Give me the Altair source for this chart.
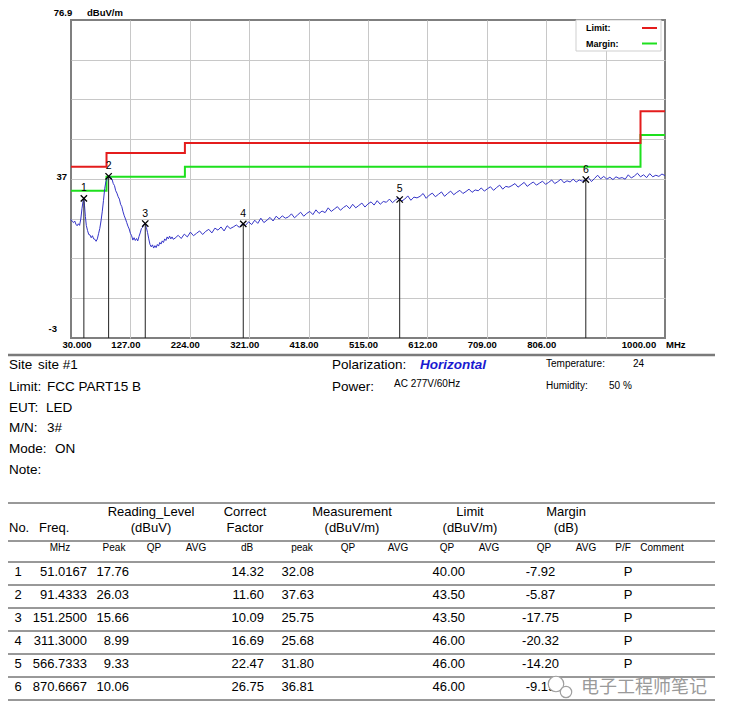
import altair as alt
import pandas as pd

# ---------------- spectrum data ----------------
low_freq = [30, 32, 34, 36, 38, 40, 42, 44, 46, 48, 50, 51, 52, 53.5, 55, 57, 59, 61, 63, 65,
            67, 69, 71, 73, 75, 77, 79, 81, 83, 85, 87, 89, 91.4, 93, 95, 97, 99, 101, 103, 105,
            107, 109, 111, 113, 115, 117, 119, 121, 123, 125, 127, 129, 131, 133, 135, 137, 139, 141, 143, 145,
            147, 149, 151.25, 153, 155, 157, 159, 161, 163, 165, 167, 169, 171, 173, 175, 177, 179, 181, 183, 185,
            187, 189, 191, 193, 195, 197]
low_level = [26.8, 26.3, 26.0, 26.4, 25.6, 25.2, 25.7, 25.3, 26.9, 29.6, 31.7, 32.1, 30.4, 27.5, 25.3, 24.0, 23.0, 22.9, 22.2, 22.7,
             21.9, 21.8, 21.3, 21.9, 23.2, 24.5, 26.4, 28.7, 31.5, 34.5, 36.3, 37.1, 37.6, 37.7, 37.3, 36.9, 35.8, 35.3, 34.0, 33.4,
             32.5, 31.9, 30.6, 30.0, 28.7, 27.7, 26.9, 26.0, 25.1, 24.4, 23.3, 22.7, 21.6, 22.2, 21.5, 22.0, 21.4, 22.5, 23.4, 24.5,
             24.8, 25.6, 25.75, 24.8, 23.5, 21.9, 20.5, 19.9, 20.4, 19.6, 20.2, 19.7, 20.5, 20.1, 21.0, 20.6, 21.4, 21.0, 21.9, 21.5,
             22.4, 21.9, 22.6, 21.9, 22.4, 21.8]

high_freq = [200, 205, 210, 215, 220, 225, 230, 235, 240, 245,
             250, 255, 260, 265, 270, 275, 280, 285, 290, 295,
             300, 305, 310, 315, 320, 325, 330, 335, 340, 345,
             350, 355, 360, 365, 370, 375, 380, 385, 390, 395,
             400, 405, 410, 415, 420, 425, 430, 435, 440, 445,
             450, 455, 460, 465, 470, 475, 480, 485, 490, 495,
             500, 505, 510, 515, 520, 525, 530, 535, 540, 545,
             550, 555, 560, 565, 570, 575, 580, 585, 590, 595,
             600, 605, 610, 615, 620, 625, 630, 635, 640, 645,
             650, 655, 660, 665, 670, 675, 680, 685, 690, 695,
             700, 705, 710, 715, 720, 725, 730, 735, 740, 745,
             750, 755, 760, 765, 770, 775, 780, 785, 790, 795,
             800, 805, 810, 815, 820, 825, 830, 835, 840, 845,
             850, 855, 860, 865, 870, 875, 880, 885, 890, 895,
             900, 905, 910, 915, 920, 925, 930, 935, 940, 945,
             950, 955, 960, 965, 970, 975, 980, 985, 990, 995, 1000]
high_level = [22.1, 22.8, 22.0, 23.1, 22.4, 23.6, 22.7, 23.3, 23.9, 23.0,
              23.8, 24.3, 23.4, 24.6, 24.1, 24.9, 23.9, 25.2, 24.5, 24.9,
              25.4, 24.8, 25.7, 25.3, 26.2, 25.5, 26.6, 25.8, 27.1, 26.0,
              26.6, 27.3, 26.4, 27.6, 26.9, 27.7, 27.1, 27.4, 28.2, 27.2,
              27.9, 28.6, 27.6, 28.3, 28.8, 28.0, 29.2, 28.3, 28.9, 28.5,
              29.7, 28.8, 29.4, 30.0, 29.1, 29.8, 30.3, 29.5, 30.6, 29.7,
              30.3, 30.9, 29.9, 30.7, 31.2, 30.4, 31.5, 30.6, 31.3, 31.1,
              31.9, 31.0, 31.7, 32.2, 31.4, 31.9, 32.7, 31.6, 32.4, 32.2,
              32.6, 33.3, 32.1, 32.9, 33.4, 32.5, 33.1, 33.7, 32.6, 33.3,
              33.9, 33.0, 33.6, 34.1, 33.3, 33.8, 34.4, 33.6, 34.2, 34.0,
              34.7, 33.9, 34.5, 35.0, 34.1, 34.8, 35.4, 34.4, 35.1, 34.9,
              35.3, 35.8, 34.9, 35.5, 36.1, 35.1, 35.7, 36.2, 35.4, 35.9,
              36.4, 35.6, 36.1, 36.7, 35.8, 36.3, 36.9, 36.0, 36.5, 36.2,
              36.9, 36.2, 36.7, 36.4, 36.8, 37.3, 36.3, 37.1, 37.9, 37.0,
              37.6, 36.9, 37.4, 36.8, 37.5, 37.1, 37.3, 36.9, 38.0, 37.2,
              37.7, 38.4, 37.5, 38.0, 37.3, 38.3, 37.5, 37.9, 37.6, 38.2, 37.8]

limit_freq = [30, 88, 216, 960, 1000]
limit_level = [40.0, 43.5, 46.0, 54.0, 54.0]
margin_level = [34.0, 37.5, 40.0, 48.0, 48.0]

x_grid = [127, 224, 321, 418, 515, 612, 709, 806, 903]
x_tick_labels = ["30.000", "127.00", "224.00", "321.00", "418.00", "515.00", "612.00", "709.00", "806.00", "1000.00"]
x_tick_values = [30, 127, 224, 321, 418, 515, 612, 709, 806, 1000]
y_grid = [6.99, 16.98, 26.96, 36.95, 46.94, 56.93, 66.91]
x_min, x_max = 30, 1000
y_min, y_max = -3, 76.9

# ---------------- table data ----------------
marker_no = [1, 2, 3, 4, 5, 6]
marker_freq = [51.0167, 91.4333, 151.2500, 311.3000, 566.7333, 870.6667]
reading_peak = [17.76, 26.03, 15.66, 8.99, 9.33, 10.06]
correct_factor = [14.32, 11.60, 10.09, 16.69, 22.47, 26.75]
meas_peak = [32.08, 37.63, 25.75, 25.68, 31.80, 36.81]
limit_qp = [40.00, 43.50, 43.50, 46.00, 46.00, 46.00]
margin_qp = [-7.92, -5.87, -17.75, -20.32, -14.20, -9.19]
pass_fail = ["P", "P", "P", "P", "P", "P"]
pf_hidden_by_watermark = [False, False, False, False, False, True]

info_labels = ["Site", "Limit:", "EUT:", "M/N:", "Mode:", "Note:"]
info_values = ["site #1", "FCC PART15 B", "LED", "3#", "ON", ""]
polarization = "Horizontal"
power = "AC 277V/60Hz"
temperature = "24"
humidity = "50 %"

header_top = ["Reading_Level", "Correct", "Measurement", "Limit", "Margin"]
header_bot = ["(dBuV)", "Factor", "(dBuV/m)", "(dBuV/m)", "(dB)"]
sub_header = ["MHz", "Peak", "QP", "AVG", "dB", "peak", "QP", "AVG", "QP", "AVG", "QP", "AVG", "P/F", "Comment"]
watermark = "电子工程师笔记"

# ---------------- layout (image pixels) ----------------
OX, OY = 71, 20
W, H = 594, 318
FONT = "Liberation Sans, Arial, sans-serif"

x_label_dx = [6, -4.5, -4.5, -4.5, -4.5, -4.5, -4.5, -4.5, -4.5, -26]
header_top_x = [151, 245, 352, 470, 566]
sub_header_x = [60, 114, 154, 196, 247, 302, 348, 398, 447, 489, 544, 586, 623, 662]
row_y = [572, 595, 618, 641, 664, 687]
table_lines_y = [503, 541, 562, 585, 608, 631, 654, 677, 700]
info_y = [365, 387, 408, 428, 449, 470]
info_val_x = [38, 47, 46, 47, 55, 47]


def R(v):
    return v - OX


def T(v):
    return v - OY


def txt(texts, xs, ys, size, align="left", weight="normal", style="normal", color="black", font=FONT, opacity=1):
    df = pd.DataFrame({"t": texts, "px": [R(x) for x in xs], "py": [T(y) for y in ys]})
    return alt.Chart(df).mark_text(
        align=align, baseline="middle", fontSize=size, fontWeight=weight, fontStyle=style,
        color=color, font=font, opacity=opacity
    ).encode(
        x=alt.X("px:Q", scale=None, axis=None),
        y=alt.Y("py:Q", scale=None, axis=None),
        text="t:N",
    )


xs = alt.Scale(domain=[x_min, x_max], nice=False, zero=False)
ys = alt.Scale(domain=[y_min, y_max], nice=False, zero=False)

x_axis = alt.Axis(values=x_grid, grid=True, gridColor="#c8c8c8", gridWidth=1, ticks=False, domain=False,
                  labels=False, title=None)
y_axis = alt.Axis(values=y_grid, grid=True, gridColor="#c8c8c8", gridWidth=1, ticks=False, domain=False,
                  labels=False, title=None)

trace_df = pd.DataFrame({"freq": low_freq + high_freq, "level": low_level + high_level})
trace = alt.Chart(trace_df).mark_line(color="#3535c8", strokeWidth=1).encode(
    x=alt.X("freq:Q", scale=xs, axis=x_axis),
    y=alt.Y("level:Q", scale=ys, axis=y_axis),
)

lim_df = pd.DataFrame({"freq": limit_freq, "limit": limit_level, "margin": margin_level})
limit_line = alt.Chart(lim_df).mark_line(interpolate="step-after", color="#e41c1c", strokeWidth=2).encode(
    x=alt.X("freq:Q", scale=xs), y=alt.Y("limit:Q", scale=ys))
margin_line = alt.Chart(lim_df).mark_line(interpolate="step-after", color="#1ee01e", strokeWidth=2).encode(
    x=alt.X("freq:Q", scale=xs), y=alt.Y("margin:Q", scale=ys))

mk_df = pd.DataFrame({"freq": marker_freq, "level": meas_peak, "no": [str(n) for n in marker_no]})
mk_rule = alt.Chart(mk_df).mark_rule(color="#222222", strokeWidth=1).encode(
    x=alt.X("freq:Q", scale=xs), y=alt.Y("level:Q", scale=ys), y2=alt.datum(y_min))
mk_x = alt.Chart(mk_df).mark_point(shape="M-1,-1L1,1M-1,1L1,-1", size=40, color="black",
                                   strokeWidth=1.3, filled=False, opacity=1).encode(
    x=alt.X("freq:Q", scale=xs), y=alt.Y("level:Q", scale=ys))
mk_lab = alt.Chart(mk_df).mark_text(fontSize=10.5, font=FONT, dy=-10, color="black").encode(
    x=alt.X("freq:Q", scale=xs), y=alt.Y("level:Q", scale=ys), text="no:N")

# x tick labels through the frequency scale
xl_layers = []
for v, lab, d in zip(x_tick_values, x_tick_labels, x_label_dx):
    xl_layers.append(
        alt.Chart(pd.DataFrame({"freq": [v], "lab": [lab]})).mark_text(
            fontSize=9.5, fontWeight="bold", font=FONT, align="center", baseline="middle", dx=d, color="black"
        ).encode(x=alt.X("freq:Q", scale=xs), y=alt.value(H + 7), text="lab:N")
    )
mhz = alt.Chart(pd.DataFrame({"freq": [x_max]})).mark_text(
    fontSize=9.5, fontWeight="bold", font=FONT, align="left", baseline="middle", dx=1, color="black"
).encode(x=alt.X("freq:Q", scale=xs), y=alt.value(H + 7), text=alt.value("MHz"))

ylab_df = pd.DataFrame({"v": [y_max, 37, y_min], "lab": ["76.9", "37", "-3"]})
ylab_top = alt.Chart(ylab_df.iloc[[0]]).mark_text(fontSize=9.5, fontWeight="bold", font=FONT, align="center",
                                                  baseline="middle", dy=-7.5, color="black").encode(
    x=alt.value(-8), y=alt.Y("v:Q", scale=ys), text="lab:N")
ylab_mid = alt.Chart(ylab_df.iloc[[1]]).mark_text(fontSize=9.5, fontWeight="bold", font=FONT, align="right",
                                                  baseline="middle", dy=-2, color="black").encode(
    x=alt.value(-4), y=alt.Y("v:Q", scale=ys), text="lab:N")
ylab_bot = alt.Chart(ylab_df.iloc[[2]]).mark_text(fontSize=9.5, fontWeight="bold", font=FONT, align="right",
                                                  baseline="middle", dy=-9, color="black").encode(
    x=alt.value(-14), y=alt.Y("v:Q", scale=ys), text="lab:N")
unit = alt.Chart(ylab_df.iloc[[0]]).mark_text(fontSize=9.5, fontWeight="bold", font=FONT, align="left",
                                              baseline="middle", dy=-7.5, color="black").encode(
    x=alt.value(16), y=alt.Y("v:Q", scale=ys), text=alt.value("dBuV/m"))

# legend box
one = pd.DataFrame({"a": [0]})
leg_box = alt.Chart(one).mark_rect(fill="white", stroke="#cfcfcf", strokeWidth=1).encode(
    x=alt.value(R(576)), x2=alt.value(R(661)), y=alt.value(T(20)), y2=alt.value(T(51)))
leg_red = alt.Chart(one).mark_rule(color="#e41c1c", strokeWidth=2).encode(
    x=alt.value(R(642)), x2=alt.value(R(657)), y=alt.value(T(28)))
leg_green = alt.Chart(one).mark_rule(color="#1ee01e", strokeWidth=2).encode(
    x=alt.value(R(642)), x2=alt.value(R(657)), y=alt.value(T(43.5)))
leg_txt = txt(["Limit:", "Margin:"], [586, 586], [28, 43.5], 9, weight="bold")

# separators and table lines
sep = alt.Chart(one).mark_rule(color="#7a7a7a", strokeWidth=2.5).encode(
    x=alt.value(R(8)), x2=alt.value(R(715)), y=alt.value(T(355)))
tl_df = pd.DataFrame({"py": [T(y) for y in table_lines_y]})
tlines = alt.Chart(tl_df).mark_rule(color="#333333", strokeWidth=1).encode(
    x=alt.value(R(8)), x2=alt.value(R(715)), y=alt.Y("py:Q", scale=None, axis=None))

# info block
info_l = txt(info_labels, [9] * 6, info_y, 13.5)
info_v = txt(info_values, info_val_x, info_y, 13.5)
info_r = txt(["Polarization:", "Power:"], [332, 332], [365, 387], 13.5)
info_pol = txt([polarization], [420], [365], 13.5, weight="bold", style="italic", color="#1a1ad0")
info_small = txt([power, "Temperature:", temperature, "Humidity:", humidity],
                 [394, 546, 633, 546, 609], [384, 364, 364, 386, 386], 10)

# table
hdr1 = txt(header_top, header_top_x, [512] * 5, 13, align="center")
hdr2 = txt(header_bot, header_top_x, [528] * 5, 13, align="center")
hdr0 = txt(["No.", "Freq."], [9, 39], [528, 528], 13)
sub = txt(sub_header, sub_header_x, [548] * len(sub_header), 10, align="center")

right_texts, right_x, right_y = [], [], []
for i in range(6):
    for val, xx, fmt in [(marker_freq[i], 87, "{:.4f}"), (reading_peak[i], 129, "{:.2f}"),
                         (correct_factor[i], 264, "{:.2f}"), (meas_peak[i], 314, "{:.2f}"),
                         (limit_qp[i], 465, "{:.2f}")]:
        right_texts.append(fmt.format(val))
        right_x.append(xx)
        right_y.append(row_y[i])
cells_r = txt(right_texts, right_x, right_y, 13, align="right")

center_texts, center_x, center_y = [], [], []
for i in range(6):
    center_texts += [str(marker_no[i]), "{:.2f}".format(margin_qp[i])]
    center_x += [18, 540.5]
    center_y += [row_y[i]] * 2
    if not pf_hidden_by_watermark[i]:
        center_texts.append(pass_fail[i])
        center_x.append(628)
        center_y.append(row_y[i])
cells_c = txt(center_texts, center_x, center_y, 13, align="center")

# watermark
icon_df = pd.DataFrame({"px": [R(556), R(566)], "py": [T(684), T(692)], "s": [240, 130]})
icon = alt.Chart(icon_df).mark_point(shape="circle", filled=True, fill="white", stroke="#a0a0a0",
                                     strokeWidth=1.2, opacity=1).encode(
    x=alt.X("px:Q", scale=None, axis=None), y=alt.Y("py:Q", scale=None, axis=None),
    size=alt.Size("s:Q", scale=None, legend=None))
wm = txt([watermark], [581], [688], 18, color="#9a9a9a", font="Noto Sans CJK SC")

chart = alt.layer(
    margin_line, limit_line, trace, mk_rule, mk_x, mk_lab,
    leg_box, leg_red, leg_green, leg_txt,
    *xl_layers, mhz, ylab_top, ylab_mid, ylab_bot, unit,
    sep, tlines, info_l, info_v, info_r, info_pol, info_small,
    hdr1, hdr2, hdr0, sub, cells_r, cells_c, icon, wm,
).properties(
    width=W, height=H,
    padding={"left": 63, "top": 12, "right": 56, "bottom": 372},
    autosize=alt.AutoSizeParams(type="none"),
    background="white",
).configure_view(stroke="#7f7f7f", strokeWidth=2)

chart.save("out.html", embed_options={"renderer": "svg", "actions": False})
